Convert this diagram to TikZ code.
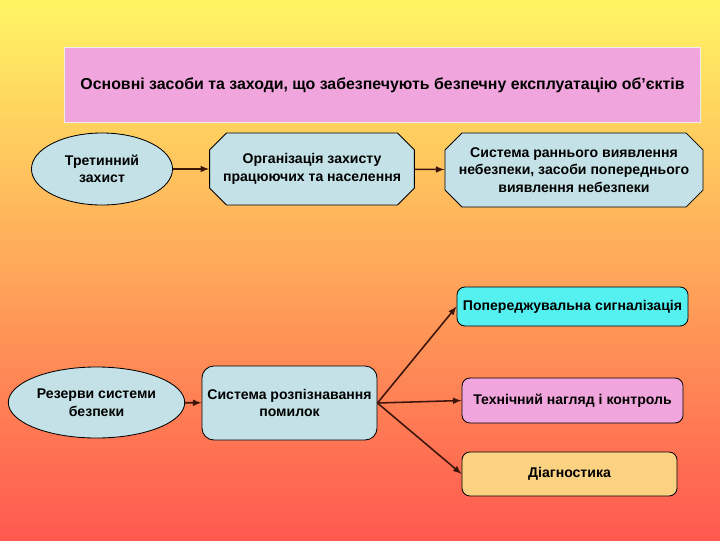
\documentclass[tikz,border=0pt]{standalone}
\usepackage{fontspec}
\setmainfont{Liberation Sans}
\usetikzlibrary{shapes.geometric,shapes.misc}

\definecolor{bgtop}{RGB}{255,245,100}
\definecolor{bgbottom}{RGB}{255,88,80}
\definecolor{paleblue}{RGB}{195,225,230}
\definecolor{pinkfill}{RGB}{240,165,220}
\definecolor{cyanfill}{RGB}{85,240,240}
\definecolor{sandfill}{RGB}{250,210,130}
\definecolor{arrowbrown}{RGB}{60,20,10}

\tikzstyle{base}=[draw=black,line width=0.6pt,align=center,inner sep=2pt,
  font=\bfseries\fontsize{10}{12.5}\selectfont]
\tikzstyle{oval}=[base,ellipse,fill=paleblue]
\tikzstyle{octa}=[base,chamfered rectangle,chamfered rectangle xsep=0.3cm,inner sep=1pt,fill=paleblue]
\tikzstyle{roundbox}=[base,rectangle,rounded corners=0.3cm]
\tikzstyle{link}=[draw,line width=1.1pt,-latex,arrowbrown]

\begin{document}
\begin{tikzpicture}[x=0.025cm,y=-0.025cm]
	\shade[top color=bgtop,bottom color=bgbottom] (0,0) rectangle (720,540);
	\useasboundingbox (0,0) rectangle (720,540);
			% heading
			\node[draw=white!85!gray,line width=0.6pt,fill=pinkfill,minimum width=15.875cm,minimum height=1.875cm,
			  font=\bfseries\fontsize{11.3}{14}\selectfont] (title) at (382.5,85)
			  {Основні засоби та заходи, що забезпечують безпечну експлуатацію об’єктів};
			% upper row
			\node[oval,minimum width=3.525cm,minimum height=1.8cm] (third) at (102,169) {Третинний\\захист};
			\node[octa,minimum width=5cm,minimum height=1.8cm] (people) at (312,169) {Організація захисту\\працюючих та населення};
			\node[octa,minimum width=6.45cm,minimum height=1.85cm] (early) at (574,170) {Система раннього виявлення\\небезпеки, засоби попереднього\\виявлення небезпеки};
			% lower row
			\node[oval,minimum width=3.575cm,minimum height=1.775cm] (reserve) at (96.5,402.5) {Резерви системи\\безпеки};
			\node[roundbox,fill=paleblue,minimum width=4.375cm,minimum height=1.85cm] (detect) at (289.5,403) {Система розпізнавання\\помилок};
			\node[roundbox,fill=cyanfill,rounded corners=0.2cm,minimum width=5.775cm,minimum height=0.975cm] (warn) at (572.5,306.5) {Попереджувальна сигналізація};
			\node[roundbox,fill=pinkfill,rounded corners=0.2cm,minimum width=5.525cm,minimum height=1.125cm] (inspect) at (572.5,400.5) {Технічний нагляд і контроль};
			\node[roundbox,fill=sandfill,rounded corners=0.2cm,minimum width=5.375cm,minimum height=1.1cm] (diag) at (569.5,474) {Діагностика};
	   		 % connect the boxes
	   		 \foreach \source/ \dest in {third/people, people/early, reserve/detect}
			 \path[link] (\source) to (\dest);
	   		 \foreach \dest in {warn, inspect, diag}
			 \path[link] (detect.east) to (\dest.west);
		\end{tikzpicture}
\end{document}
